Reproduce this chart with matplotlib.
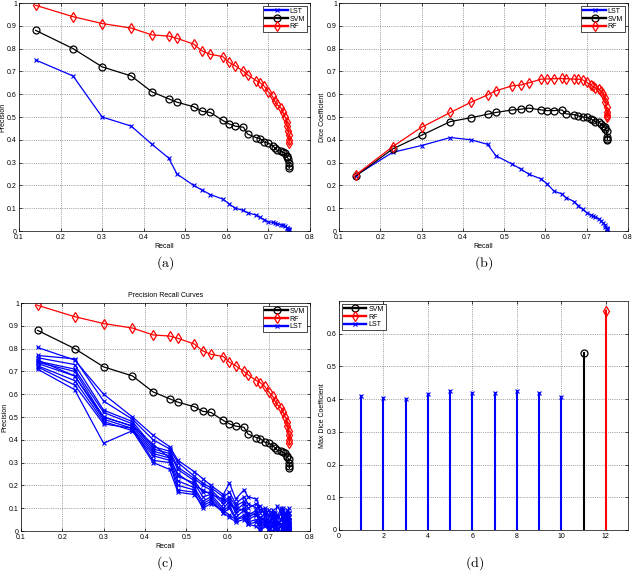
import numpy as np
import matplotlib
matplotlib.use("Agg")
import matplotlib.pyplot as plt
from matplotlib.lines import Line2D

plt.rcParams.update({"font.family": "Liberation Sans", "font.size": 5,
                     "mathtext.fontset": "cm", "axes.linewidth": 0.5})

# recall thresholds shared by the curves
recall = [0.14, 0.23, 0.30, 0.37, 0.42, 0.46, 0.48, 0.52, 0.54, 0.56, 0.59, 0.605, 0.62, 0.64, 0.65,
          0.67, 0.68, 0.69, 0.70, 0.71, 0.715, 0.72, 0.73, 0.735, 0.74, 0.745, 0.745, 0.748, 0.75, 0.75, 0.75]

# (a) precision
rf_prec = [0.99, 0.94, 0.91, 0.89, 0.86, 0.855, 0.845, 0.82, 0.79, 0.775, 0.765, 0.74, 0.725, 0.70, 0.685,
           0.66, 0.65, 0.635, 0.61, 0.59, 0.57, 0.555, 0.54, 0.52, 0.50, 0.48, 0.46, 0.44, 0.42, 0.40, 0.385]
svm_prec = [0.88, 0.80, 0.72, 0.68, 0.61, 0.58, 0.565, 0.545, 0.525, 0.52, 0.485, 0.47, 0.46, 0.455, 0.425,
            0.41, 0.405, 0.39, 0.385, 0.375, 0.365, 0.355, 0.35, 0.345, 0.34, 0.33, 0.325, 0.315, 0.30, 0.285, 0.275]
lst_prec = [0.75, 0.68, 0.50, 0.46, 0.38, 0.32, 0.25, 0.20, 0.18, 0.16, 0.14, 0.12, 0.10, 0.09, 0.08,
            0.07, 0.06, 0.05, 0.04, 0.038, 0.035, 0.032, 0.028, 0.025, 0.02, 0.015, 0.012, 0.01, 0.008, 0.006, 0.005]

# (b) dice
rf_dice = [0.245, 0.37, 0.455, 0.52, 0.565, 0.597, 0.615, 0.637, 0.64, 0.65, 0.666, 0.667, 0.668, 0.669, 0.668,
           0.666, 0.666, 0.663, 0.652, 0.641, 0.634, 0.628, 0.622, 0.612, 0.60, 0.583, 0.565, 0.546, 0.524, 0.51, 0.50]
svm_dice = [0.24, 0.36, 0.42, 0.48, 0.497, 0.512, 0.52, 0.531, 0.534, 0.539, 0.531, 0.528, 0.528, 0.531, 0.514,
            0.51, 0.505, 0.50, 0.499, 0.492, 0.485, 0.48, 0.476, 0.47, 0.461, 0.454, 0.447, 0.44, 0.414, 0.405, 0.40]
lst_dice = [0.243, 0.345, 0.375, 0.41, 0.40, 0.38, 0.33, 0.293, 0.272, 0.249, 0.228, 0.205, 0.176, 0.162, 0.146,
            0.129, 0.111, 0.095, 0.08, 0.07, 0.065, 0.061, 0.053, 0.044, 0.035, 0.026, 0.019, 0.015, 0.01, 0.007, 0.005]

# (c) ten LST runs
lst_runs = [
    lst_prec,
    [0.805, 0.75, 0.60, 0.50, 0.42, 0.37, 0.31, 0.26, 0.23, 0.20, 0.16, 0.21, 0.14, 0.18, 0.15, 0.14, 0.09, 0.10,
     0.07, 0.09, 0.06, 0.11, 0.08, 0.10, 0.07, 0.09, 0.06, 0.10, 0.08, 0.05, 0.03],
    [0.77, 0.755, 0.57, 0.49, 0.40, 0.36, 0.30, 0.24, 0.21, 0.19, 0.15, 0.17, 0.12, 0.15, 0.12, 0.10, 0.11, 0.07,
     0.09, 0.05, 0.08, 0.06, 0.10, 0.04, 0.08, 0.05, 0.07, 0.03, 0.06, 0.04, 0.02],
    [0.76, 0.73, 0.53, 0.48, 0.37, 0.35, 0.28, 0.23, 0.20, 0.18, 0.13, 0.15, 0.11, 0.13, 0.10, 0.12, 0.08, 0.09,
     0.06, 0.08, 0.04, 0.07, 0.05, 0.09, 0.03, 0.06, 0.04, 0.08, 0.02, 0.05, 0.01],
    [0.745, 0.71, 0.52, 0.47, 0.36, 0.34, 0.27, 0.22, 0.17, 0.17, 0.12, 0.14, 0.09, 0.12, 0.07, 0.09, 0.05, 0.08,
     0.03, 0.07, 0.05, 0.04, 0.08, 0.02, 0.06, 0.03, 0.07, 0.01, 0.05, 0.02, 0.0],
    [0.74, 0.70, 0.50, 0.46, 0.35, 0.33, 0.24, 0.21, 0.15, 0.16, 0.10, 0.13, 0.08, 0.10, 0.06, 0.08, 0.04, 0.06,
     0.05, 0.03, 0.07, 0.02, 0.05, 0.06, 0.01, 0.04, 0.02, 0.06, 0.01, 0.03, 0.0],
    [0.735, 0.68, 0.49, 0.45, 0.34, 0.32, 0.22, 0.19, 0.13, 0.15, 0.09, 0.11, 0.06, 0.09, 0.05, 0.07, 0.03, 0.05,
     0.02, 0.06, 0.01, 0.04, 0.03, 0.01, 0.05, 0.02, 0.01, 0.04, 0.0, 0.02, 0.0],
    [0.725, 0.66, 0.48, 0.44, 0.33, 0.31, 0.20, 0.18, 0.12, 0.14, 0.08, 0.10, 0.05, 0.07, 0.04, 0.05, 0.02, 0.04,
     0.01, 0.03, 0.02, 0.0, 0.03, 0.01, 0.02, 0.0, 0.01, 0.03, 0.0, 0.01, 0.0],
    [0.72, 0.64, 0.47, 0.45, 0.31, 0.30, 0.18, 0.17, 0.10, 0.12, 0.09, 0.07, 0.05, 0.06, 0.03, 0.04, 0.01, 0.03,
     0.0, 0.02, 0.01, 0.0, 0.02, 0.0, 0.01, 0.0, 0.02, 0.0, 0.01, 0.0, 0.0],
    [0.71, 0.62, 0.385, 0.44, 0.30, 0.27, 0.17, 0.16, 0.11, 0.13, 0.08, 0.06, 0.04, 0.05, 0.03, 0.02, 0.0, 0.02,
     0.01, 0.0, 0.03, 0.01, 0.0, 0.02, 0.0, 0.01, 0.0, 0.0, 0.01, 0.0, 0.0],
]

# (d) max dice per run
lst_runs_id = [1, 2, 3, 4, 5, 6, 7, 8, 9, 10]
lst_max_dice = [0.41, 0.405, 0.40, 0.415, 0.425, 0.42, 0.42, 0.425, 0.42, 0.408]
svm_max_dice = 0.54
rf_max_dice = 0.67

BLUE, RED, BLACK = "#0000ff", "#ff0000", "#000000"
sty = {
    "LST": dict(color=BLUE, marker="x", ms=3.5, mew=0.8, lw=0.9),
    "SVM": dict(color=BLACK, marker="o", ms=5, mfc="none", mew=0.9, lw=0.9),
    "RF": dict(color=RED, marker="d", ms=5.5, mfc="none", mew=0.9, lw=0.9),
}

fig = plt.figure(figsize=(6.33, 5.71), dpi=100)
W, H = 633, 571

def mkax(l, t, r, b):
    return fig.add_axes([l / W, (H - b) / H, (r - l) / W, (b - t) / H])

def style(ax):
    ax.tick_params(direction="in", top=True, right=True, length=2, width=0.5, pad=1.5, labelsize=5)
    ax.tick_params(axis="x", pad=2.5)
    ax.grid(True, linestyle=":", color="0.35", linewidth=0.5)
    ax.yaxis.set_major_formatter(plt.FuncFormatter(lambda v, p: f"{v:g}"))
    ax.xaxis.set_major_formatter(plt.FuncFormatter(lambda v, p: f"{v:g}"))

def pr_axes(ax):
    ax.set_xlim(0.1, 0.8); ax.set_ylim(0, 1)
    ax.set_xticks(np.arange(0.1, 0.81, 0.1)); ax.set_yticks(np.arange(0, 1.01, 0.1))
    style(ax)
    ax.set_xlabel("Recall", fontsize=5, labelpad=1)

def ylab(ax, text):
    ax.set_ylabel(text, fontsize=5, labelpad=0.8)

def leg(ax, handles, labels, loc):
    lg = ax.legend(handles, labels, loc=loc, fontsize=5, fancybox=False, edgecolor="black",
                   framealpha=1, handlelength=3.2, borderpad=0.3, labelspacing=0.1,
                   handletextpad=0.3, borderaxespad=0.4)
    lg.get_frame().set_linewidth(0.5)

def proxy(name):
    s = dict(sty[name]); s["lw"] = 1.7
    return Line2D([], [], **s)

def nolw(name):
    return {k: v for k, v in sty[name].items() if k != "lw"}

# (a)
ax = mkax(19, 3, 310, 231)
ax.plot(recall, lst_prec, **sty["LST"])
ax.plot(recall, svm_prec, **sty["SVM"])
ax.plot(recall, rf_prec, **sty["RF"])
pr_axes(ax)
ylab(ax, "Precision")
leg(ax, [proxy("LST"), proxy("SVM"), proxy("RF")], ["LST", "SVM", "RF"], "upper right")
fig.text(165 / W, 1 - 263 / H, r"$\mathrm{(a)}$", ha="center", va="center", fontsize=10)

# (b)
ax = mkax(339, 3, 628, 231)
ax.plot(recall, lst_dice, **sty["LST"])
ax.plot(recall, svm_dice, **sty["SVM"])
ax.plot(recall, rf_dice, **sty["RF"])
pr_axes(ax)
ylab(ax, "Dice Coefficient")
leg(ax, [proxy("LST"), proxy("SVM"), proxy("RF")], ["LST", "SVM", "RF"], "upper right")
fig.text(484 / W, 1 - 263 / H, r"$\mathrm{(b)}$", ha="center", va="center", fontsize=10)

# (c)
ax = mkax(21, 303, 310, 531)
ax.plot(recall, svm_prec, **sty["SVM"])
ax.plot(recall, rf_prec, **sty["RF"])
for run in lst_runs:
    ax.plot(recall, run, **sty["LST"])
pr_axes(ax)
ylab(ax, "Precision")
ax.set_title("Precision Recall Curves", fontsize=5, pad=4)
leg(ax, [proxy("SVM"), proxy("RF"), proxy("LST")], ["SVM", "RF", "LST"], "upper right")
fig.text(165 / W, 1 - 563 / H, r"$\mathrm{(c)}$", ha="center", va="center", fontsize=10)

# (d)
ax = mkax(339, 301, 628, 530)
for xi, yi in zip(lst_runs_id, lst_max_dice):
    ax.plot([xi, xi], [0, yi], color=BLUE, lw=1.5)
ax.plot(lst_runs_id, lst_max_dice, ls="none", **nolw("LST"))
ax.plot([11, 11], [0, svm_max_dice], color=BLACK, lw=1.5)
ax.plot([11], [svm_max_dice], ls="none", **nolw("SVM"))
ax.plot([12, 12], [0, rf_max_dice], color=RED, lw=1.5)
ax.plot([12], [rf_max_dice], ls="none", **nolw("RF"))
ax.set_xlim(0, 13); ax.set_ylim(0, 0.7)
ax.set_xticks(np.arange(0, 13, 2)); ax.set_yticks(np.arange(0, 0.61, 0.1))
style(ax)
ylab(ax, "Max Dice Coefficient")
leg(ax, [proxy("SVM"), proxy("RF"), proxy("LST")], ["SVM", "RF", "LST"], "upper left")
fig.text(475 / W, 1 - 563 / H, r"$\mathrm{(d)}$", ha="center", va="center", fontsize=10)

fig.savefig("out.png", dpi=100)
